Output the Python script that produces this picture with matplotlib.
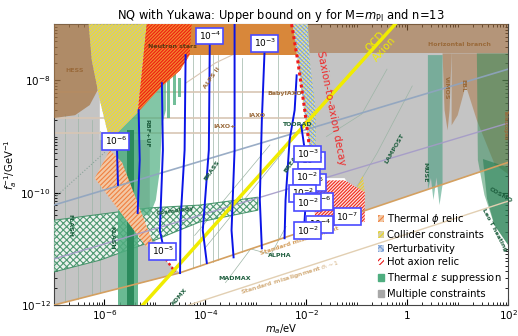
import numpy as np
import matplotlib
matplotlib.use('Agg')
import matplotlib.pyplot as plt
from matplotlib.patches import Patch
from matplotlib import ticker

plt.rcParams['hatch.linewidth'] = 0.8

# every region / curve below is given as log10(m_a/eV), log10(f_a^-1 GeV)

# bounds
gray_left_m  = [-7.0, -6.09, -6.09, -5.10, -5.10, -4.80, -4.50, -7.0]
gray_left_g  = [-7.0, -7.0, -9.06, -9.06, -10.67, -11.20, -11.43, -12.0]
gray_right_m = [-2.03, 2.0, 2.0, -0.84, -1.24, -1.83, -1.87]
gray_right_g = [-7.0, -7.0, -9.47, -10.31, -9.74, -9.74, -9.06]

ns_m, ns_g = [-5.30, -2.03], [-7.0, -7.55]          # neutron stars band
hb_m, hb_g = [-2.03, 2.0], [-7.0, -7.52]            # horizontal branch band
hess_m = [-7.0, -6.25, -6.19, -6.13, -6.29, -6.58, -7.0]
hess_g = [-7.0, -7.0, -7.64, -8.17, -8.44, -8.62, -8.67]

vimos_m = [0.70, 0.88, 0.84, 0.80, 0.74]
vimos_g = [-7.52, -7.52, -8.53, -8.89, -8.53]
ebl_m = [0.88, 2.0, 2.0, 1.73, 1.38, 1.16, 1.00, 0.88]
ebl_g = [-7.52, -7.52, -9.67, -9.49, -8.71, -8.09, -8.62, -8.80]
leot_m = [1.38, 2.0, 2.0, 1.73, 1.53, 1.40]
leot_g = [-7.52, -7.52, -10.93, -10.58, -10.04, -9.42]
leot2_m = [1.50, 2.0, 2.0, 1.73, 1.58]
leot2_g = [-9.40, -9.55, -10.93, -10.58, -10.10]
muse_m = [0.41, 0.70, 0.70, 0.64, 0.58, 0.52, 0.47, 0.41]
muse_g = [-7.55, -7.55, -9.86, -10.22, -9.73, -10.13, -9.74, -9.95]

# haloscope-type green bands
g1_m, g1_g = [-5.73, -5.34], [-8.35, -12.0]
g1d_m, g1d_g = [-5.55, -5.42], [-8.89, -12.0]
g2_m = [-5.34, -5.14, -4.98, -4.86, -4.78, -4.78, -4.86, -4.90, -4.98, -5.10, -5.34]
g2_g = [-8.57, -8.27, -8.00, -7.82, -7.82, -8.53, -8.80, -9.60, -10.13, -10.40, -10.40]
spikes = [(-4.76, -4.69, -7.61, -8.67), (-4.64, -4.58, -7.82, -8.44), (-4.54, -4.49, -7.95, -8.30)]

# cosmology band
cosmo_m = [-7.0, -5.10, -4.11, -2.96, -2.96, -4.11, -5.10, -6.09, -7.0]
cosmo_g = [-10.49, -10.27, -10.22, -10.08, -10.31, -10.52, -10.88, -11.20, -11.41]

# hatched constraints
collider_m = [-6.31, -5.16, -5.34, -5.75, -5.93, -6.09, -6.25]
collider_g = [-7.0, -7.0, -8.57, -8.94, -8.94, -8.35, -7.64]
collider2_m, collider2_g = [-1.04, -0.84, -0.88], [-9.99, -9.99, -9.69]
hot_top_m = [-5.16, -4.27, -4.31, -4.50, -4.90, -5.34]
hot_top_g = [-7.0, -7.0, -7.55, -7.82, -8.14, -8.57]
hot_low_m = [-1.83, -1.24, -0.84, -0.84, -1.34, -1.69, -1.83]
hot_low_g = [-9.78, -9.78, -9.99, -10.52, -10.56, -10.67, -10.40]
pert_m = [-2.27, -1.97, -1.93, -1.81, -1.81, -1.93, -2.07, -2.17]
pert_g = [-7.0, -7.0, -7.64, -8.53, -9.24, -9.24, -8.35, -7.64]
phi_m = [-6.19, -5.89, -5.65, -5.04, -5.16]
phi_g = [-9.74, -9.24, -9.46, -10.88, -10.97]

saxion_m, saxion_g = [-2.29, -2.17, -2.03, -1.93], [-7.0, -7.64, -8.53, -9.24]
hotedge_m, hotedge_g = [-4.84, -4.60], [-11.11, -11.41]

# lines
misal_m, misal_g = [-7.0, -4.52, 2.0], [-12.0, -11.43, -9.46]
misal1_m, misal1_g = [-4.33, 2.0], [-12.0, -10.15]
qcd_m, qcd_g = [-5.24, -0.24], [-12.0, -7.0]
bl1_m, bl1_g = [-7.0, 2.0], [-10.22, -7.80]
bl2_m, bl2_g = [-7.0, 2.0], [-11.18, -8.76]

# contours of the upper bound on y
contours = [
    ([-5.75, -5.73], [-9.21, -9.86]),
    ([-5.32, -5.30, -5.34], [-8.53, -9.42, -10.36]),
    ([-4.86, -4.84, -4.90, -4.84], [-8.05, -9.24, -10.67, -10.93]),
    ([-4.39, -4.41, -4.49, -4.50], [-7.55, -9.24, -10.49, -11.43]),
    ([-3.91, -3.93, -4.05, -3.97], [-7.21, -9.24, -10.67, -11.25]),
    ([-3.42, -3.42, -3.48, -3.44], [-7.0, -9.24, -10.67, -11.15]),
    ([-2.82, -2.88, -2.92, -2.88], [-7.34, -8.71, -10.13, -10.99]),
    ([-2.19, -2.23, -2.33, -2.41, -2.43], [-7.91, -8.53, -9.06, -10.13, -10.81]),
    ([-2.10, -2.02, -2.00, -2.05], [-8.80, -9.30, -10.00, -10.75]),
]
clabels = [
    (-5.77, -9.08, '$10^{-6}$'), (-4.84, -11.04, '$10^{-5}$'),
    (-3.91, -7.21, '$10^{-4}$'), (-2.82, -7.34, '$10^{-3}$'),
    (-1.89, -9.42, '$10^{-5}$'), (-1.97, -9.31, '$10^{-3}$'),
    (-1.87, -9.81, '$10^{-5}$'), (-1.99, -9.72, '$10^{-2}$'),
    (-2.07, -10.01, '$10^{-2}$'), (-1.73, -10.15, '$10^{-6}$'),
    (-1.97, -10.18, '$10^{-2}$'), (-1.73, -10.56, '$10^{-4}$'),
    (-1.97, -10.67, '$10^{-2}$'), (-1.18, -10.43, '$10^{-7}$'),
]

# projected sensitivities (thin lines)
vert_m = [-6.78, -6.52, -6.25, -6.09, -4.25, -4.11, -3.85, -3.75, -3.28, -2.56]
vert_top = [-8.6, -8.6, -8.7, -8.9, -7.55, -7.55, -7.55, -7.55, -7.6, -7.55]
diag_lines = [
    ([-4.21, -2.72], [-10.76, -9.15]),
    ([-4.01, -2.43], [-10.99, -9.24]),
    ([-3.60, -3.10, -2.70, -2.40], [-11.60, -11.00, -11.10, -10.60]),
    ([-1.20, -0.60, 0.10], [-10.20, -9.30, -8.10]),
    ([-1.60, -0.90, -0.40], [-9.00, -8.60, -7.80]),
]
iaxo_g = [-8.21, -8.67, -8.94]
alps_m, alps_g = [-4.39, -3.80, -3.40], [-8.05, -7.69, -7.52]
dotted_m, dotted_g = [-7.0, -5.99], [-10.10, -9.28]

xtick_vals = [1e-6, 1e-4, 1e-2, 1, 1e2]
xtick_labels = ['$10^{-6}$', '$10^{-4}$', '$10^{-2}$', '$1$', '$10^{2}$']
ytick_vals = [1e-12, 1e-10, 1e-8]
ytick_labels = ['$10^{-12}$', '$10^{-10}$', '$10^{-8}$']


def P(m, g):
    return 10**np.asarray(m, float), 10**np.asarray(g, float)


def rect(m, g):
    return [m[0], m[1], m[1], m[0]], [g[0], g[0], g[1], g[1]]


fig = plt.figure(figsize=(5.18, 3.36), dpi=100)
ax = fig.add_axes([0.104, 0.092, 0.877, 0.836])
ax.set_xscale('log')
ax.set_yscale('log')

GRAY = '#c4c4c4'
ax.fill(*P(gray_left_m, gray_left_g), color=GRAY, lw=0, zorder=1)
ax.fill(*P(gray_right_m, gray_right_g), color=GRAY, lw=0, zorder=1)

# thin sensitivity curves
for m, top in zip(vert_m, vert_top):
    bot = np.interp(m, misal_m, misal_g)
    ax.plot(*P([m, m], [top, bot]), color='#9db5a6', lw=0.5, zorder=2)
for m, g in diag_lines:
    ax.plot(*P(m, g), color='#9db5a6', lw=0.5, zorder=2)
for g in iaxo_g:
    ax.plot(*P([-7.0, -1.9], [g, g]), color='#d8c6b4', lw=1.2, zorder=2)
ax.plot(*P(alps_m, alps_g), color='#d8c6b4', lw=0.8, zorder=2)
ax.plot(*P(dotted_m, dotted_g), color='#8aa39a', lw=0.8, ls=':', zorder=2)

# astrophysics
ax.fill(*P(*rect(ns_m, ns_g)), color='#d8873a', lw=0, zorder=3)
ax.fill(*P(*rect(hb_m, hb_g)), color='#a8703c', alpha=0.55, lw=0, zorder=3)
ax.fill(*P(hess_m, hess_g), color='#a87848', alpha=0.75, lw=0, zorder=3)
ax.fill(*P(vimos_m, vimos_g), color='#a8703c', alpha=0.55, lw=0, zorder=3)
ax.fill(*P(ebl_m, ebl_g), color='#a8703c', alpha=0.5, lw=0, zorder=3)
ax.fill(*P(muse_m, muse_g), color='#3a9a78', alpha=0.55, lw=0, zorder=3)
ax.fill(*P(leot_m, leot_g), color='#2e8b57', alpha=0.5, lw=0, zorder=3)
ax.fill(*P(leot2_m, leot2_g), color='#1f7a4d', alpha=0.55, lw=0, zorder=3)

# thermal epsilon suppression
GREEN = '#4fae80'
ax.fill(*P(*rect(g1_m, g1_g)), color=GREEN, alpha=0.85, lw=0, zorder=3.5)
ax.fill(*P(*rect(g1d_m, g1d_g)), color='#2b8a5c', lw=0, zorder=3.6)
ax.fill(*P(g2_m, g2_g), color=GREEN, alpha=0.7, lw=0, zorder=3.5)
for x0, x1, y0, y1 in spikes:
    ax.fill(*P(*rect([x0, x1], [y0, y1])), color=GREEN, alpha=0.8, lw=0, zorder=3.5)
ax.fill(*P(cosmo_m, cosmo_g), facecolor='#f2f8f4', edgecolor='#3d8f64',
        hatch='xxxxx', lw=0.8, alpha=0.9, zorder=3.4)

# hatched regions
H = '//////////'
ax.fill(*P(collider_m, collider_g), facecolor='#c8bf9c', edgecolor='#f2e224',
        hatch=H, lw=0, zorder=4)
ax.fill(*P(collider2_m, collider2_g), facecolor='none', edgecolor='#f0d020',
        hatch=H, lw=0, zorder=4)
ax.fill(*P(hot_top_m, hot_top_g), facecolor='#f08a30', edgecolor='#f01a10',
        hatch=H, lw=0, zorder=4)
ax.fill(*P(hot_low_m, hot_low_g), facecolor='#ffe0dc', edgecolor='#ee2a1a',
        hatch=H, lw=0, zorder=4)
ax.fill(*P(pert_m, pert_g), facecolor='#c4d4ea', edgecolor='#f0e040',
        hatch='////////', lw=0, zorder=4)
ax.fill(*P(pert_m, pert_g), facecolor='none', edgecolor='#7aa0d8',
        hatch='\\' * 8, lw=0, zorder=4.1)
ax.fill(*P(phi_m, phi_g), facecolor='#f3c8a4', edgecolor='#ef8040',
        hatch='///////', lw=0, zorder=4)

ax.plot(*P(saxion_m, saxion_g), color='#ee1c1c', lw=2.2, ls=(0, (1, 1)), zorder=5)
ax.plot(*P(hotedge_m, hotedge_g), color='#ee1c1c', lw=1.8, ls=(0, (1, 1)), zorder=5)

# reference lines
ax.plot(*P(bl1_m, bl1_g), color='#8fa4c0', lw=1.2, alpha=0.9, zorder=4.5)
ax.plot(*P(bl2_m, bl2_g), color='#a49ac8', lw=1.0, alpha=0.9, zorder=4.5)
ax.plot(*P(misal_m, misal_g), color='#d4a060', lw=1.2, zorder=5)
ax.plot(*P(misal1_m, misal1_g), color='#e2cfb2', lw=1.0, zorder=5)
ax.plot(*P(qcd_m, qcd_g), color='#f0ec00', lw=2.5, zorder=5)

for m, g in contours:
    ax.plot(*P(m, g), color='#0a14e6', lw=1.4, zorder=5.5)
for m, g, s in clabels:
    ax.text(10**m, 10**g, s, fontsize=6.5, ha='center', va='center', zorder=7,
            bbox=dict(boxstyle='square,pad=0.25', fc='white', ec='#4a4aff', lw=1.2))

# region / experiment names
def lab(m, g, s, c, fs=4.5, rot=0, bold=True):
    ax.text(10**m, 10**g, s, color=c, fontsize=fs, rotation=rot, ha='center',
            va='center', fontweight='bold' if bold else 'normal', zorder=6)

BRN = '#9a6a3a'
DG = '#1f5f3f'
lab(-6.58, -7.82, 'HESS', BRN)
lab(-4.66, -7.39, 'Neutron stars', '#5a3a10')
lab(-3.87, -7.96, 'ALPS II', BRN, rot=55)
lab(-2.43, -8.23, 'BabyIAXO', BRN)
lab(-2.98, -8.62, 'IAXO', BRN)
lab(-3.61, -8.83, 'IAXO+', BRN)
lab(-2.19, -8.78, 'TOORAD', DG)
lab(1.04, -7.36, 'Horizontal branch', BRN)
lab(0.78, -8.14, 'VIMOS', BRN, rot=-90)
lab(1.10, -8.09, 'EBL', BRN, rot=-90)
lab(1.95, -8.80, 'Telescopes', BRN, fs=3.5, rot=-90)
lab(-0.25, -9.21, 'LAMPOST', DG, rot=60)
lab(0.35, -9.63, 'MUSE', DG, rot=-90)
lab(1.73, -10.67, 'Leo T heating', DG, rot=-62)
lab(1.85, -10.05, 'COSMO', DG, rot=-30)
lab(-3.87, -9.60, 'BRASS', DG, rot=55)
lab(-2.29, -9.46, 'BREAD', DG, rot=55)
lab(-2.52, -11.11, 'ALPHA', DG)
lab(-3.42, -11.52, 'MADMAX', DG)
lab(-4.50, -11.86, 'ADMX', DG, rot=50)
lab(-6.68, -10.58, 'FLASH', DG, rot=-90)
lab(-5.85, -10.81, 'KLASH', DG, rot=-90)
lab(-5.16, -8.94, 'RBF+UF', DG, rot=-90)
lab(-4.60, -10.33, 'Cosmology', DG, rot=8)
lab(-2.13, -10.86, 'Standard misalignment', '#d4a060', rot=18)
lab(-2.33, -11.52, r'Standard misalignment $\theta_i \sim 1$', '#d4b080', rot=17)
lab(-1.50, -8.49, 'Saxion-to-axion decay', '#ee2a2a', fs=7.5, rot=-79, bold=False)
lab(-0.54, -7.37, 'QCD\nAxion', '#f0ec00', fs=7.5, rot=48, bold=False)

ax.set_xlim(1e-7, 1e2)
ax.set_ylim(1e-12, 1e-7)
ax.set_xticks(xtick_vals, xtick_labels)
ax.set_yticks(ytick_vals, ytick_labels)
ax.xaxis.set_minor_locator(ticker.LogLocator(base=10, subs=np.arange(1, 10), numticks=50))
ax.yaxis.set_minor_locator(ticker.LogLocator(base=10, subs=np.arange(1, 10), numticks=50))
ax.xaxis.set_minor_formatter(ticker.NullFormatter())
ax.yaxis.set_minor_formatter(ticker.NullFormatter())
ax.tick_params(which='both', direction='in', top=True, right=True, labelsize=7.5)
ax.tick_params(which='major', length=4, pad=2.5)
ax.tick_params(which='minor', length=2)
for s in ax.spines.values():
    s.set_color('#444444')

ax.set_title(r'NQ with Yukawa: Upper bound on y for M=$m_{\rm Pl}$ and n=13', fontsize=8.3, pad=4)
ax.set_xlabel('$m_a$/eV', fontsize=7.2, labelpad=0)
ax.set_ylabel('$f_a^{-1}$/GeV$^{-1}$', fontsize=7.2, labelpad=1)

handles = [
    Patch(facecolor='#f3c8a4', edgecolor='#ef8040', hatch='//////', lw=0),
    Patch(facecolor='#d8d0a8', edgecolor='#e8d820', hatch='//////', lw=0),
    Patch(facecolor='#c4d4ea', edgecolor='#7aa0d8', hatch='xxxxx', lw=0),
    Patch(facecolor='#ffffff', edgecolor='#e81818', hatch='//////', lw=0),
    Patch(facecolor=GREEN, edgecolor=GREEN),
    Patch(facecolor='#a8a8a8', edgecolor='#a8a8a8'),
]
names = ['Thermal $\\phi$ relic', 'Collider constraints', 'Perturbativity',
         'Hot axion relic', 'Thermal $\\epsilon$ suppression', 'Multiple constraints']
ax.legend(handles, names, loc='lower left', bbox_to_anchor=(0.70, 0.0), frameon=False,
          fontsize=7.2, handlelength=0.6, handleheight=0.7, handletextpad=0.35,
          labelspacing=0.38, borderaxespad=0.2)

fig.savefig('out.png', dpi=100)
